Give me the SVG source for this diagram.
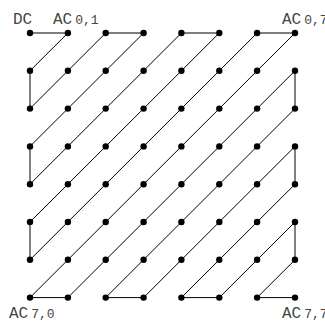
<svg xmlns="http://www.w3.org/2000/svg" width="325" height="322" viewBox="0 0 325 322">
<style>
.bg{fill:#fff}
.c line{stroke:#000;stroke-width:1;stroke-linecap:round}
.n circle{fill:#000}
.t{font-family:"Liberation Mono","Courier New",monospace;fill:#444;font-size:16px}
.s{font-size:13px}
</style>
<rect class="bg" width="325" height="322"/>
<g id="connectors" class="c">
<line x1="30" y1="33" x2="67.9" y2="33"/>
<line x1="67.9" y1="33" x2="30" y2="70.8"/>
<line x1="30" y1="70.8" x2="30" y2="108.6"/>
<line x1="30" y1="108.6" x2="105.7" y2="33"/>
<line x1="105.7" y1="33" x2="143.6" y2="33"/>
<line x1="143.6" y1="33" x2="30" y2="146.4"/>
<line x1="30" y1="146.4" x2="30" y2="184.2"/>
<line x1="30" y1="184.2" x2="181.4" y2="33"/>
<line x1="181.4" y1="33" x2="219.3" y2="33"/>
<line x1="219.3" y1="33" x2="30" y2="222"/>
<line x1="30" y1="222" x2="30" y2="259.8"/>
<line x1="30" y1="259.8" x2="257.1" y2="33"/>
<line x1="257.1" y1="33" x2="295" y2="33"/>
<line x1="295" y1="33" x2="30" y2="297.6"/>
<line x1="30" y1="297.6" x2="67.9" y2="297.6"/>
<line x1="67.9" y1="297.6" x2="295" y2="70.8"/>
<line x1="295" y1="70.8" x2="295" y2="108.6"/>
<line x1="295" y1="108.6" x2="105.7" y2="297.6"/>
<line x1="105.7" y1="297.6" x2="143.6" y2="297.6"/>
<line x1="143.6" y1="297.6" x2="295" y2="146.4"/>
<line x1="295" y1="146.4" x2="295" y2="184.2"/>
<line x1="295" y1="184.2" x2="181.4" y2="297.6"/>
<line x1="181.4" y1="297.6" x2="219.3" y2="297.6"/>
<line x1="219.3" y1="297.6" x2="295" y2="222"/>
<line x1="295" y1="222" x2="295" y2="259.8"/>
<line x1="295" y1="259.8" x2="257.1" y2="297.6"/>
<line x1="257.1" y1="297.6" x2="295" y2="297.6"/>
</g>
<g id="nodes" class="n">
<g id="n00"><circle cx="30" cy="33" r="3.2"/></g>
<g id="n01"><circle cx="67.9" cy="33" r="3.2"/></g>
<g id="n02"><circle cx="105.7" cy="33" r="3.2"/></g>
<g id="n03"><circle cx="143.6" cy="33" r="3.2"/></g>
<g id="n04"><circle cx="181.4" cy="33" r="3.2"/></g>
<g id="n05"><circle cx="219.3" cy="33" r="3.2"/></g>
<g id="n06"><circle cx="257.1" cy="33" r="3.2"/></g>
<g id="n07"><circle cx="295" cy="33" r="3.2"/></g>
<g id="n10"><circle cx="30" cy="70.8" r="3.2"/></g>
<g id="n11"><circle cx="67.9" cy="70.8" r="3.2"/></g>
<g id="n12"><circle cx="105.7" cy="70.8" r="3.2"/></g>
<g id="n13"><circle cx="143.6" cy="70.8" r="3.2"/></g>
<g id="n14"><circle cx="181.4" cy="70.8" r="3.2"/></g>
<g id="n15"><circle cx="219.3" cy="70.8" r="3.2"/></g>
<g id="n16"><circle cx="257.1" cy="70.8" r="3.2"/></g>
<g id="n17"><circle cx="295" cy="70.8" r="3.2"/></g>
<g id="n20"><circle cx="30" cy="108.6" r="3.2"/></g>
<g id="n21"><circle cx="67.9" cy="108.6" r="3.2"/></g>
<g id="n22"><circle cx="105.7" cy="108.6" r="3.2"/></g>
<g id="n23"><circle cx="143.6" cy="108.6" r="3.2"/></g>
<g id="n24"><circle cx="181.4" cy="108.6" r="3.2"/></g>
<g id="n25"><circle cx="219.3" cy="108.6" r="3.2"/></g>
<g id="n26"><circle cx="257.1" cy="108.6" r="3.2"/></g>
<g id="n27"><circle cx="295" cy="108.6" r="3.2"/></g>
<g id="n30"><circle cx="30" cy="146.4" r="3.2"/></g>
<g id="n31"><circle cx="67.9" cy="146.4" r="3.2"/></g>
<g id="n32"><circle cx="105.7" cy="146.4" r="3.2"/></g>
<g id="n33"><circle cx="143.6" cy="146.4" r="3.2"/></g>
<g id="n34"><circle cx="181.4" cy="146.4" r="3.2"/></g>
<g id="n35"><circle cx="219.3" cy="146.4" r="3.2"/></g>
<g id="n36"><circle cx="257.1" cy="146.4" r="3.2"/></g>
<g id="n37"><circle cx="295" cy="146.4" r="3.2"/></g>
<g id="n40"><circle cx="30" cy="184.2" r="3.2"/></g>
<g id="n41"><circle cx="67.9" cy="184.2" r="3.2"/></g>
<g id="n42"><circle cx="105.7" cy="184.2" r="3.2"/></g>
<g id="n43"><circle cx="143.6" cy="184.2" r="3.2"/></g>
<g id="n44"><circle cx="181.4" cy="184.2" r="3.2"/></g>
<g id="n45"><circle cx="219.3" cy="184.2" r="3.2"/></g>
<g id="n46"><circle cx="257.1" cy="184.2" r="3.2"/></g>
<g id="n47"><circle cx="295" cy="184.2" r="3.2"/></g>
<g id="n50"><circle cx="30" cy="222" r="3.2"/></g>
<g id="n51"><circle cx="67.9" cy="222" r="3.2"/></g>
<g id="n52"><circle cx="105.7" cy="222" r="3.2"/></g>
<g id="n53"><circle cx="143.6" cy="222" r="3.2"/></g>
<g id="n54"><circle cx="181.4" cy="222" r="3.2"/></g>
<g id="n55"><circle cx="219.3" cy="222" r="3.2"/></g>
<g id="n56"><circle cx="257.1" cy="222" r="3.2"/></g>
<g id="n57"><circle cx="295" cy="222" r="3.2"/></g>
<g id="n60"><circle cx="30" cy="259.8" r="3.2"/></g>
<g id="n61"><circle cx="67.9" cy="259.8" r="3.2"/></g>
<g id="n62"><circle cx="105.7" cy="259.8" r="3.2"/></g>
<g id="n63"><circle cx="143.6" cy="259.8" r="3.2"/></g>
<g id="n64"><circle cx="181.4" cy="259.8" r="3.2"/></g>
<g id="n65"><circle cx="219.3" cy="259.8" r="3.2"/></g>
<g id="n66"><circle cx="257.1" cy="259.8" r="3.2"/></g>
<g id="n67"><circle cx="295" cy="259.8" r="3.2"/></g>
<g id="n70"><circle cx="30" cy="297.6" r="3.2"/></g>
<g id="n71"><circle cx="67.9" cy="297.6" r="3.2"/></g>
<g id="n72"><circle cx="105.7" cy="297.6" r="3.2"/></g>
<g id="n73"><circle cx="143.6" cy="297.6" r="3.2"/></g>
<g id="n74"><circle cx="181.4" cy="297.6" r="3.2"/></g>
<g id="n75"><circle cx="219.3" cy="297.6" r="3.2"/></g>
<g id="n76"><circle cx="257.1" cy="297.6" r="3.2"/></g>
<g id="n77"><circle cx="295" cy="297.6" r="3.2"/></g>
</g>
<g id="labels">
<text class="t" x="13" y="24">DC</text>
<text class="t" x="53" y="24">AC<tspan class="s" dx="3">0,1</tspan></text>
<text class="t" x="282" y="24">AC<tspan class="s" dx="3">0,7</tspan></text>
<text class="t" x="9" y="318">AC<tspan class="s" dx="3">7,0</tspan></text>
<text class="t" x="282" y="318">AC<tspan class="s" dx="3">7,7</tspan></text>
</g>
</svg>
